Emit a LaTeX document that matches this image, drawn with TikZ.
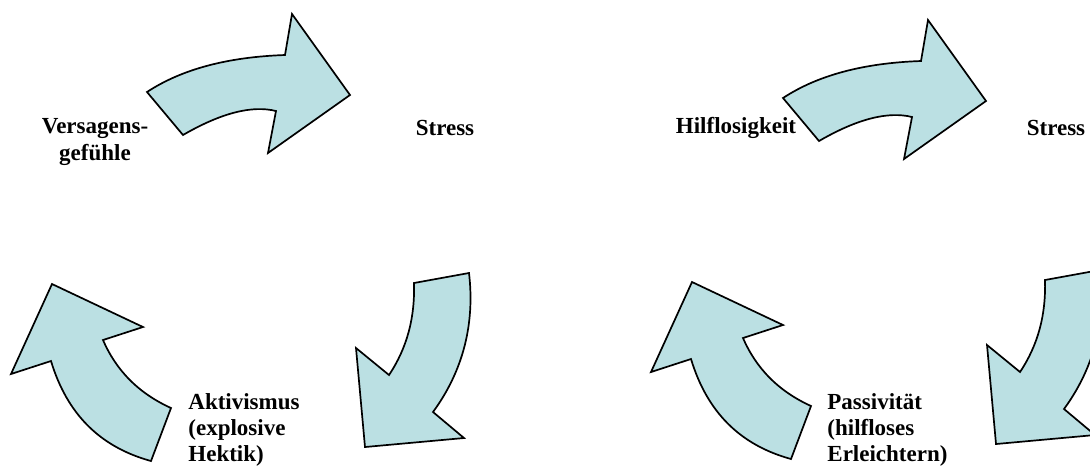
\documentclass[tikz,border=0pt]{standalone}
\usepackage{fontspec}
\setmainfont{Liberation Serif}
\usepackage{tikz}
\usepackage{xcolor}
\definecolor{arrowblue}{RGB}{187,224,227}

\tikzset{
  cyclearrow/.style={draw=black, fill=arrowblue, line width=0.85pt, line join=miter},
  cyclelabel/.style={inner sep=0pt, font=\bfseries\fontsize{11.5}{13.2}\selectfont},
  % curved block arrows, pixel units, y downwards
  pics/toparrow/.style={code={
    \draw[cyclearrow] (147,92) .. controls (182,69) and (228,57) .. (285,55)
      -- (292,14) -- (350,95) -- (268,153) -- (276,111)
      .. controls (252,105) and (221,113) .. (183,135) -- cycle;
  }},
  pics/rightarrow/.style={code={
    \draw[cyclearrow] (414,283) -- (469,273)
      .. controls (475,324) and (463,371) .. (433,412)
      -- (464,438) -- (365,447) -- (356,348) -- (389,375)
      .. controls (407,348) and (415,318) .. (414,283) -- cycle;
  }},
  pics/leftarrow/.style={code={
    \draw[cyclearrow] (151,461) -- (171,408)
      .. controls (138,393) and (116,370) .. (103,340)
      -- (143,327) -- (52,284) -- (11,374) -- (51,361)
      .. controls (67,414) and (100,447) .. (151,461) -- cycle;
  }}
}

\begin{document}
\begin{tikzpicture}[x=0.5pt, y=-0.5pt]
        \clip (0,0) rectangle (1090,468);
        % Left cycle
        \pic at (0,0) {toparrow};
        \pic at (0,0) {rightarrow};
        \pic at (0,0) {leftarrow};
        % Right cycle
        \pic at (636,6) {toparrow};
        \pic at (631,-3) {rightarrow};
        \pic at (640,-2) {leftarrow};
        % Labels
        \node[cyclelabel, align=center] (versagens) at (95,142) {Versagens-\\gefühle};
        \node[cyclelabel] (stressL) at (445,128) {Stress};
        \node[cyclelabel, align=left, anchor=west] (aktiv) at (188,430)
          {Aktivismus\\(explosive\\Hektik)};
        \node[cyclelabel] (hilf) at (736,128) {Hilflosigkeit};
        \node[cyclelabel] (stressR) at (1056,128) {Stress};
        \node[cyclelabel, align=left, anchor=west] (passiv) at (827,430)
          {Passivität\\(hilfloses\\Erleichtern)};
      \end{tikzpicture}
\end{document}
